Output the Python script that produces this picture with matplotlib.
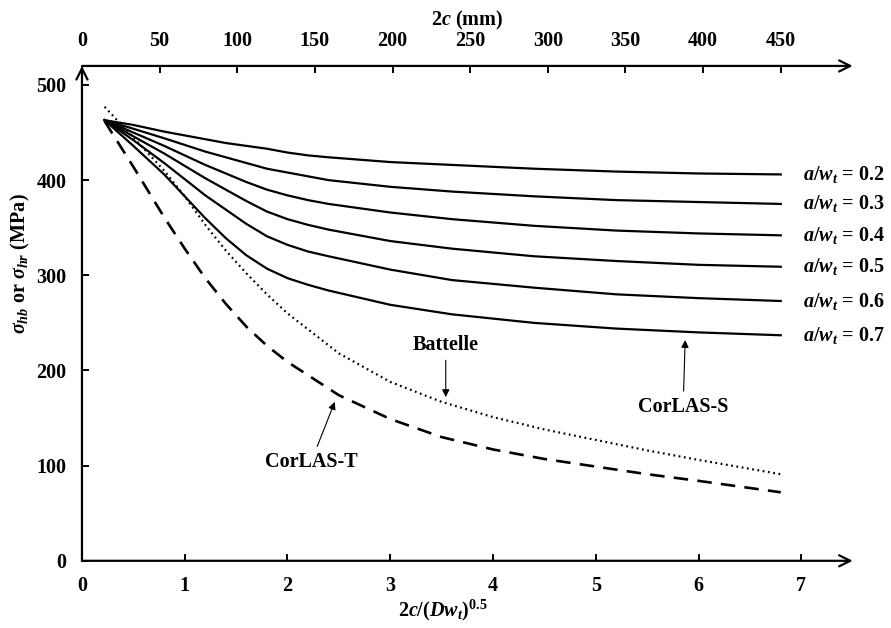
import matplotlib.pyplot as plt

plt.rcParams['font.family'] = 'Liberation Serif'
plt.rcParams['font.weight'] = 'bold'
plt.rcParams['axes.labelweight'] = 'bold'
plt.rcParams['font.size'] = 14.5
plt.rcParams['mathtext.fontset'] = 'custom'
plt.rcParams['mathtext.rm'] = 'Liberation Serif:bold'
plt.rcParams['mathtext.it'] = 'Liberation Serif:italic:bold'
plt.rcParams['mathtext.bf'] = 'Liberation Serif:bold'

# CorLAS-S krives (a/wt = 0.2 ... 0.7)
x_s = [0.22, 0.5, 0.8, 1.0, 1.2, 1.4, 1.6, 1.8, 2.0, 2.2, 2.4, 3.0, 3.6, 4.4, 5.2, 6.0, 6.8]
s_02 = [463, 458, 451, 447, 443, 439, 436, 433, 429, 426, 424, 419, 416, 412, 409, 407, 406]
s_03 = [463, 454, 444, 437, 430, 424, 418, 412, 408, 404, 400, 393, 388, 383, 379, 377, 375]
s_04 = [463, 450, 436, 426, 416, 407, 398, 390, 384, 379, 375, 366, 359, 352, 347, 344, 342]
s_05 = [463, 446, 428, 415, 402, 390, 378, 367, 359, 353, 348, 336, 328, 320, 315, 311, 309]
s_06 = [463, 442, 418, 401, 384, 369, 354, 341, 332, 325, 320, 306, 295, 287, 280, 276, 273]
s_07 = [463, 436, 406, 383, 360, 339, 321, 307, 297, 290, 284, 269, 259, 250, 244, 240, 237]
santykiai = ['0.2', '0.3', '0.4', '0.5', '0.6', '0.7']

# Battelle ir CorLAS-T
x_bt = [0.22, 0.5, 0.8, 1.0, 1.2, 1.4, 1.6, 1.8, 2.0, 2.5, 3.0, 3.5, 4.0, 4.5, 5.0, 5.5, 6.0, 6.8]
battelle = [477, 445, 410, 383, 353, 326, 302, 280, 260, 218, 188, 167, 151, 138, 127, 116, 106, 91]
corlas_t = [462, 414, 361, 328, 297, 270, 246, 226, 209, 174, 149, 130, 117, 107, 99, 91, 84, 72]

mm_per_vnt = 450 / 6.8

fig = plt.figure(figsize=(8.91, 6.28), dpi=100)
ax = fig.add_axes([0.092, 0.107, 0.865, 0.788])

for y in [s_02, s_03, s_04, s_05, s_06, s_07]:
    ax.plot(x_s, y, color='black', lw=1.6)
ax.plot(x_bt, battelle, color='black', lw=1.6, linestyle=(0, (0.8, 1.6)))
ax.plot(x_bt, corlas_t, color='black', lw=1.9, linestyle=(0, (5.5, 3.5)))

galai = [s_02[-1], s_03[-1], s_04[-1], s_05[-1], s_06[-1], s_07[-1]]
for g, s in zip(galai, santykiai):
    ax.text(7.02, g, r'$a/w_t$ = ' + s, ha='left', va='center')

rod = dict(arrowstyle='-|>', lw=0.8, color='black', mutation_scale=11, shrinkB=0)
ax.annotate('Battelle', xy=(3.54, 172), xytext=(3.54, 227), ha='center', va='center', arrowprops=rod)
ax.annotate('CorLAS-T', xy=(2.46, 167), xytext=(2.23, 104), ha='center', va='center', arrowprops=rod)
ax.annotate('CorLAS-S', xy=(5.87, 232), xytext=(5.85, 162), ha='center', va='center', arrowprops=rod)

ax.set_xlim(0, 7.5)
ax.set_ylim(0, 520)
ax.set_xticks(range(0, 8))
ax.set_yticks(range(0, 501, 100))
for sp in ax.spines.values():
    sp.set_visible(False)
ax.tick_params(direction='in', length=5, width=1.4, pad=11)

# asys su rodyklemis
ar = dict(arrowstyle='->', lw=1.6, color='black', shrinkA=0, shrinkB=0, mutation_scale=20)
ax.annotate('', xy=(1, 0), xytext=(0, 0), xycoords='axes fraction', arrowprops=ar)
ax.annotate('', xy=(1, 1), xytext=(0, 1), xycoords='axes fraction', arrowprops=ar)
ax.annotate('', xy=(0, 1), xytext=(0, 0), xycoords='axes fraction', arrowprops=ar)

ax.set_xlabel(r'2$c$/($Dw_t$)$^{0.5}$')
ax.xaxis.set_label_coords(0.468, -0.075)
ax.set_ylabel(r'$\sigma_{hb}$ or $\sigma_{hr}$ (MPa)')
ax.yaxis.set_label_coords(-0.065, 0.6)

sec = ax.secondary_xaxis('top', functions=(lambda v: v * mm_per_vnt, lambda m: m / mm_per_vnt))
sec.set_xticks(range(0, 451, 50))
sec.spines['top'].set_visible(False)
sec.tick_params(direction='in', length=5, width=1.4, pad=11)
sec.set_xlabel(r'2$c$ (mm)', labelpad=4)

plt.savefig('out.png', dpi=100)
